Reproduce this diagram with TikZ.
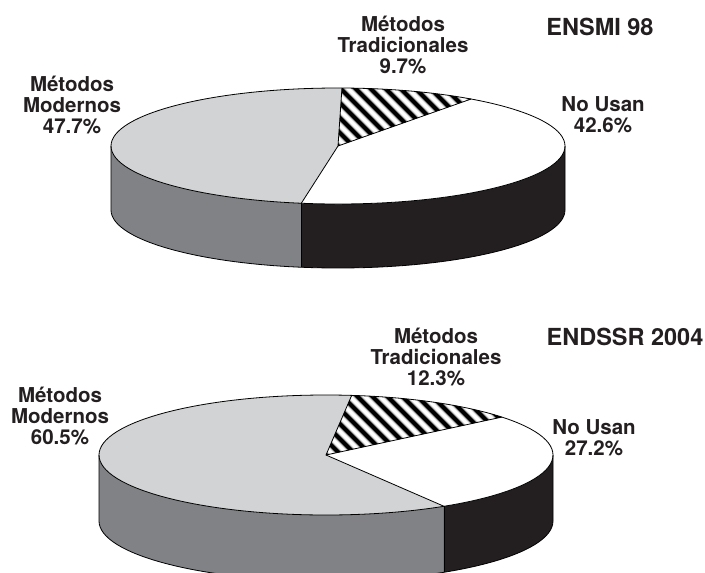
\documentclass[tikz,border=0pt]{standalone}
\usepackage{fontspec}
\setmainfont{TeX Gyre Heros}
\definecolor{lightgr}{HTML}{D1D3D4}
\definecolor{darkgr}{HTML}{808285}
\definecolor{inkblk}{HTML}{231F20}
\begin{document}
\begin{tikzpicture}[x=1pt,y=1pt,
		lbl/.style={font=\fontsize{20.5}{21}\selectfont\bfseries,text=inkblk,align=center,inner sep=0pt},
		ttl/.style={font=\fontsize{23.5}{24}\selectfont\bfseries,text=inkblk,inner sep=0pt},
		rim/.style={draw=black,line width=0.8pt,line join=round}]
		\useasboundingbox (0,-573) rectangle (705,0);
		% ENSMI 98
		\begin{scope}[shift={(338,-146)}]
			\fill[darkgr] (180:227 and 58) arc[start angle=180,end angle=260.7,x radius=227,y radius=58] -- ++(0,-64) arc[start angle=260.7,end angle=180,x radius=227,y radius=58] -- cycle;
			\fill[inkblk] (260.7:227 and 58) arc[start angle=260.7,end angle=360,x radius=227,y radius=58] -- ++(0,-64) arc[start angle=360,end angle=260.7,x radius=227,y radius=58] -- cycle;
			\fill[lightgr] (0,0) -- (89:227 and 58) arc[start angle=89,end angle=260.7,x radius=227,y radius=58] -- cycle;
			\fill[white] (0,0) -- (-99.3:227 and 58) arc[start angle=-99.3,end angle=54.1,x radius=227,y radius=58] -- cycle;
			\begin{scope}
				\clip (0,0) -- (54.1:227 and 58) arc[start angle=54.1,end angle=89,x radius=227,y radius=58] -- cycle;
				\foreach \k in {0,...,22}
				{
					\draw[gray!35,line width=7pt] ({\k*15-140},80) -- ++(160,-160);
					\draw[gray!70,line width=5.5pt] ({\k*15-140},80) -- ++(160,-160);
					\draw[black,line width=4pt] ({\k*15-140},80) -- ++(160,-160);
				}
			\end{scope}
			\draw[rim] (0,0) ellipse[x radius=227,y radius=58];
			\draw[rim] (180:227 and 58) -- ++(0,-64) arc[start angle=180,end angle=360,x radius=227,y radius=58] -- ++(0,64);
			\draw[rim] (260.7:227 and 58) -- ++(0,-64);
			\draw[rim] (89:227 and 58) -- (0,0) -- (54.1:227 and 58);
			\draw[rim] (0,0) -- (260.7:227 and 58);
		\end{scope}
		\node[ttl,anchor=base] (ensmi) at (600,-35) {ENSMI 98};
		\node[lbl] (mod1) at (72,-105) {Métodos\\Modernos\\47.7\%};
		\node[lbl] (trad1) at (403,-45) {Métodos\\Tradicionales\\9.7\%};
		\node[lbl] (nouse1) at (603,-115) {No Usan\\42.6\%};
		% ENDSSR 2004
		\begin{scope}[shift={(326,-455)}]
			\fill[darkgr] (180:227 and 60) arc[start angle=180,end angle=301.3,x radius=227,y radius=60] -- ++(0,-66) arc[start angle=301.3,end angle=180,x radius=227,y radius=60] -- cycle;
			\fill[inkblk] (301.3:227 and 60) arc[start angle=301.3,end angle=360,x radius=227,y radius=60] -- ++(0,-66) arc[start angle=360,end angle=301.3,x radius=227,y radius=60] -- cycle;
			\fill[lightgr] (0,0) -- (83.5:227 and 60) arc[start angle=83.5,end angle=301.3,x radius=227,y radius=60] -- cycle;
			\fill[white] (0,0) -- (-58.7:227 and 60) arc[start angle=-58.7,end angle=39.2,x radius=227,y radius=60] -- cycle;
			\begin{scope}
				\clip (0,0) -- (39.2:227 and 60) arc[start angle=39.2,end angle=83.5,x radius=227,y radius=60] -- cycle;
				\foreach \k in {0,...,26}
				{
					\draw[gray!35,line width=7pt] ({\k*15-140},80) -- ++(160,-160);
					\draw[gray!70,line width=5.5pt] ({\k*15-140},80) -- ++(160,-160);
					\draw[black,line width=4pt] ({\k*15-140},80) -- ++(160,-160);
				}
			\end{scope}
			\draw[rim] (0,0) ellipse[x radius=227,y radius=60];
			\draw[rim] (180:227 and 60) -- ++(0,-66) arc[start angle=180,end angle=360,x radius=227,y radius=60] -- ++(0,66);
			\draw[rim] (301.3:227 and 60) -- ++(0,-66);
			\draw[rim] (83.5:227 and 60) -- (0,0) -- (39.2:227 and 60);
			\draw[rim] (0,0) -- (301.3:227 and 60);
		\end{scope}
		\node[ttl,anchor=base] (endssr) at (625,-345) {ENDSSR 2004};
		\node[lbl] (mod2) at (60,-415.5) {Métodos\\Modernos\\60.5\%};
		\node[lbl] (trad2) at (436,-357) {Métodos\\Tradicionales\\12.3\%};
		\node[lbl] (nouse2) at (594,-437.5) {No Usan\\27.2\%};
	\end{tikzpicture}
\end{document}
